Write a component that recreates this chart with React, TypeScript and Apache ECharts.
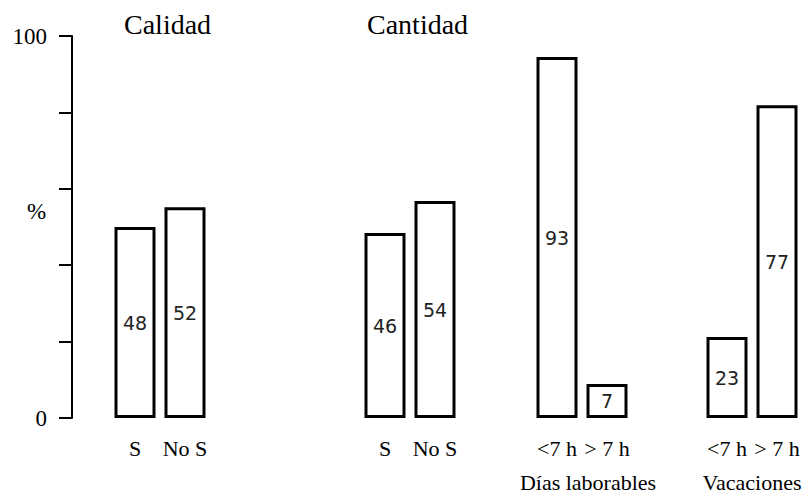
import React, { useEffect, useRef } from 'react';
import * as echarts from 'echarts';

// Titles above the first two groups, names below the last two groups
const groupTitles = ['Calidad', 'Cantidad'];
const groupNames = ['', '', 'Días laborables', 'Vacaciones'];

// Categories of each group
const calidadCategories = ['S', 'No S'];
const cantidadCategories = ['S', 'No S'];
const laborablesCategories = ['<7 h', '> 7 h'];
const vacacionesCategories = ['<7 h', '> 7 h'];

// Printed values (%)
const calidadValues = [48, 52];
const cantidadValues = [46, 54];
const laborablesValues = [93, 7];
const vacacionesValues = [23, 77];

// Drawn bar heights (%)
const calidadHeights = [50, 55.2];
const cantidadHeights = [48.4, 56.8];
const laborablesHeights = [94.5, 8.9];
const vacacionesHeights = [21.2, 81.9];

// Y axis
const yMin = 0;
const yMax = 100;
const yInterval = 20;
const yShownLabels = [0, 100];
const yName = '%';

const SERIF = 'Liberation Serif, Times New Roman, serif';
const SANS = 'DejaVu Sans, sans-serif';

export default function App() {
  const ref = useRef<HTMLDivElement>(null);

  useEffect(() => {
    if (!ref.current) return;
    const chart = echarts.init(ref.current, null, { renderer: 'svg' });

    const groups = [
      { cats: calidadCategories, vals: calidadValues, hts: calidadHeights, left: 110 },
      { cats: cantidadCategories, vals: cantidadValues, hts: cantidadHeights, left: 360 },
      { cats: laborablesCategories, vals: laborablesValues, hts: laborablesHeights, left: 532 },
      { cats: vacacionesCategories, vals: vacacionesValues, hts: vacacionesHeights, left: 702 },
    ];

    const top = 36;
    const bottom = 75;

    const grid: any[] = [
      { left: 72, top, bottom, width: 20, outerBoundsMode: 'none', containLabel: false },
    ];
    groups.forEach((g) =>
      grid.push({ left: g.left, top, bottom, width: 100, outerBoundsMode: 'none', containLabel: false })
    );

    const xAxis: any[] = [
      { gridIndex: 0, type: 'value', show: false, min: 0, max: 1 },
    ];
    const yAxis: any[] = [
      {
        gridIndex: 0,
        type: 'value',
        min: yMin,
        max: yMax,
        interval: yInterval,
        axisLine: { show: true, lineStyle: { color: '#000', width: 2 } },
        axisTick: { show: true, inside: false, length: 13, lineStyle: { color: '#000', width: 2 } },
        splitLine: { show: false },
        axisLabel: {
          margin: 25,
          fontFamily: SERIF,
          fontSize: 23,
          color: '#000',
          formatter: (v: number) => (yShownLabels.includes(v) ? String(v) : ''),
        },
      },
    ];
    const series: any[] = [];

    groups.forEach((g, i) => {
      const idx = i + 1;
      xAxis.push({
        gridIndex: idx,
        type: 'category',
        data: g.cats,
        axisLine: { show: false },
        axisTick: { show: false },
        axisLabel: {
          margin: 19,
          fontFamily: SERIF,
          fontSize: 22,
          color: '#000',
          interval: 0,
        },
        name: groupNames[i],
        nameLocation: 'middle',
        nameGap: 53,
        nameTextStyle: {
          fontFamily: SERIF,
          fontSize: 22,
          color: '#000',
          padding: i === 2 ? [0, 0, 0, 12] : 0,
        },
      });
      yAxis.push({ gridIndex: idx, type: 'value', min: yMin, max: yMax, show: false });
      series.push({
        type: 'bar',
        xAxisIndex: idx,
        yAxisIndex: idx,
        data: g.hts,
        barWidth: 41,
        itemStyle: { color: '#fff', borderColor: '#000', borderWidth: 3 },
        label: {
          show: true,
          position: 'inside',
          fontFamily: SANS,
          fontSize: 19,
          color: '#222',
          formatter: (p: any) => String(g.vals[p.dataIndex]),
        },
      });
    });

    chart.setOption({
      animation: false,
      backgroundColor: '#fff',
      title: [
        {
          text: groupTitles[0],
          left: 124,
          top: 10,
          padding: 0,
          textStyle: { fontFamily: SERIF, fontSize: 28, fontWeight: 'normal', color: '#000' },
        },
        {
          text: groupTitles[1],
          left: 367,
          top: 10,
          padding: 0,
          textStyle: { fontFamily: SERIF, fontSize: 28, fontWeight: 'normal', color: '#000' },
        },
      ],
      graphic: [
        {
          type: 'text',
          left: 27,
          top: 200,
          style: { text: yName, fontFamily: SERIF, fontSize: 23, fill: '#000' },
        },
      ],
      grid,
      xAxis,
      yAxis,
      series,
    });

    return () => chart.dispose();
  }, []);

  return (
    <div
      ref={ref}
      style={{ position: 'fixed', left: 0, top: 0, width: 808, height: 493 }}
    />
  );
}
